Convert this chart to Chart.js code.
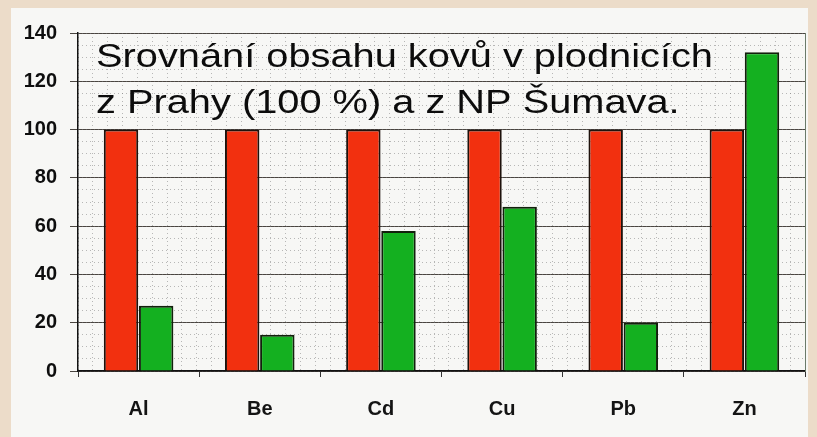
<!DOCTYPE html>
<html>
<head>
<meta charset="utf-8">
<script src="https://cdn.jsdelivr.net/npm/chart.js@4"></script>
<style>
  html, body { margin: 0; padding: 0; background: #ecdcc9; }
  #panel { position: absolute; left: 11px; top: 8px; width: 797px; height: 429px; background: #f7f7f5; }
</style>
</head>
<body>
<div id="panel"><canvas id="graf" width="797" height="429"></canvas></div>
<script>
// Data
const kovy = ['Al', 'Be', 'Cd', 'Cu', 'Pb', 'Zn'];
const praha = [100, 100, 100, 100, 100, 100];
const sumava = [27, 15, 58, 68, 20, 132];
const yTicks = [0, 20, 40, 60, 80, 100, 120, 140];
const nadpis = ['Srovnání obsahu kovů v plodnicích', 'z Prahy (100 %) a z NP Šumava.'];

const FONT = '"Liberation Sans", Arial, sans-serif';

// Nadpis přes graf (text je v originále trochu roztažený do šířky)
const nadpisPlugin = {
    id: 'nadpis',
    afterDraw(chart) {
        const ctx = chart.ctx;
        ctx.save();
        ctx.fillStyle = '#0c0c0c';
        ctx.font = '34px ' + FONT;
        ctx.textBaseline = 'alphabetic';
        ctx.translate(85, 0);
        ctx.scale(1.17, 1);
        ctx.fillText(nadpis[0], 0, 59);
        ctx.fillText(nadpis[1], 0, 105);
        ctx.restore();
    }
};

const ctx = document.getElementById('graf').getContext('2d');
new Chart(ctx, {
    type: 'bar',
    data: {
        labels: kovy,
        datasets: [{
            label: 'Praha',
            data: praha,
            backgroundColor: '#f2300f',
            borderColor: '#1e120c',
            borderWidth: 2,
            categoryPercentage: 0.58,
            barPercentage: 0.98
        }, {
            label: 'NP Šumava',
            data: sumava,
            backgroundColor: '#14b020',
            borderColor: '#12200c',
            borderWidth: 2,
            categoryPercentage: 0.58,
            barPercentage: 0.98
        }]
    },
    options: {
        responsive: false,
        animation: false,
        layout: { padding: { top: 17, right: 3, left: 0, bottom: 0 } },
        plugins: {
            legend: { display: false },
            tooltip: { enabled: false }
        },
        scales: {
            x: {
                offset: true,
                grid: {
                    offset: true,
                    drawOnChartArea: false,
                    drawTicks: true,
                    tickLength: 6,
                    color: '#333'
                },
                border: { color: '#111', width: 1.5 },
                ticks: {
                    padding: 20,
                    color: '#141414',
                    font: { family: FONT, size: 20, weight: 'bold' }
                },
                afterFit(scale) { scale.height = 66; }
            },
            xs: {
                type: 'linear',
                position: 'top',
                min: 0,
                max: 48,
                display: true,
                ticks: { display: false, stepSize: 1 },
                grid: { color: 'rgba(120,120,120,0.5)', drawTicks: false, lineWidth: 1 },
                border: { display: false, dash: [1, 3] },
                afterFit(scale) { scale.height = 0; }
            },
            y: {
                min: 0,
                max: 140,
                afterBuildTicks(scale) { scale.ticks = yTicks.map(v => ({ value: v })); },
                grid: { color: '#4a4540', lineWidth: 1, tickLength: 8 },
                border: { color: '#111', width: 1.5 },
                ticks: {
                    padding: 13,
                    color: '#0e0e0e',
                    font: { family: FONT, size: 20, weight: 'bold' }
                },
                afterFit(scale) { scale.width = 67; }
            },
            ys: {
                min: 0,
                max: 140,
                position: 'right',
                ticks: { display: false, stepSize: 5 },
                grid: { color: 'rgba(120,120,120,0.5)', drawTicks: false },
                border: { color: '#6a7a6a', width: 1, dash: [1, 3] },
                afterFit(scale) { scale.width = 0; }
            }
        }
    },
    plugins: [nadpisPlugin]
});
</script>
</body>
</html>
